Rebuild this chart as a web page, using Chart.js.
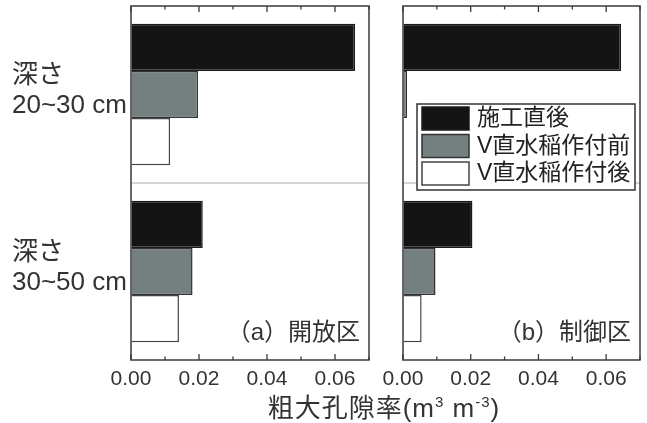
<!DOCTYPE html>
<html><head><meta charset="utf-8">
<script src="https://cdn.jsdelivr.net/npm/chart.js@4"></script>
<style>
html,body{margin:0;padding:0;background:#fff;width:647px;height:423px;overflow:hidden;position:relative}
#c1{position:absolute;left:0;top:0;}
#c2{position:absolute;left:378px;top:0;}
#xt{position:absolute;left:0;width:768px;top:394px;line-height:28px;text-align:center;font-size:26px;letter-spacing:1px;font-family:"Liberation Sans","Noto Sans CJK JP",sans-serif;color:#333;white-space:nowrap}
#xt sup{font-size:15px;vertical-align:10px;line-height:0}
</style>
</head><body>
<canvas id="c1" width="378" height="423"></canvas>
<canvas id="c2" width="269" height="423"></canvas>
<div id="xt">粗大孔隙率(m<sup>3</sup> m<sup>-3</sup>)</div>
<script>
// ---- data ----
const categories = [["深さ", "20~30 cm"], ["深さ", "30~50 cm"]];
const seriesNames = ["施工直後", "V直水稲作付前", "V直水稲作付後"];
const panelLabels = ["（a）開放区", "（b）制御区"];
// (a) 開放区
const openImmediate = [0.0659, 0.0211];
const openBefore = [0.0197, 0.0181];
const openAfter = [0.0115, 0.0141];
// (b) 制御区
const ctrlImmediate = [0.0644, 0.0205];
const ctrlBefore = [0.0012, 0.0096];
const ctrlAfter = [0.0, 0.0055];
const xMin = 0, xMax = 0.07, xStep = 0.01;

// ---- styles ----
const fills = ["#141414", "#748080", "#ffffff"];
const borders = ["#1a1a1a", "#333333", "#444444"];
const FONT = '"Liberation Sans","Noto Sans CJK JP",sans-serif';

function makeDatasets(vals) {
  return vals.map((v, i) => ({
    label: seriesNames[i], data: v,
    backgroundColor: fills[i], borderColor: borders[i], borderWidth: 1.5,
    categoryPercentage: 0.8, barPercentage: 1.0
  }));
}

const framePlugin = {
  id: 'frame',
  beforeDatasetsDraw(chart) {
    const {ctx, chartArea: a, scales: {y}} = chart;
    const sy = (y.getPixelForValue(0) + y.getPixelForValue(1)) / 2;
    ctx.save();
    ctx.strokeStyle = '#c8c8c8'; ctx.lineWidth = 1.5;
    ctx.beginPath(); ctx.moveTo(a.left, sy); ctx.lineTo(a.right, sy); ctx.stroke();
    ctx.restore();
  },
  afterDatasetsDraw(chart, args, opts) {
    const {ctx, chartArea: a, scales: {x}} = chart;
    ctx.save();
    ctx.strokeStyle = '#3a3a3a'; ctx.lineWidth = 1.5;
    ctx.strokeRect(a.left, a.top, a.right - a.left, a.bottom - a.top);
    ctx.lineWidth = 1.3;
    x.ticks.forEach(t => {
      const px = x.getPixelForValue(t.value);
      const major = Math.round(t.value * 100) % 2 === 0;
      const len = major ? 6 : 3.5;
      ctx.beginPath();
      ctx.moveTo(px, a.top); ctx.lineTo(px, a.top + len);
      ctx.moveTo(px, a.bottom); ctx.lineTo(px, a.bottom - len);
      ctx.stroke();
    });
    ctx.fillStyle = '#333';
    ctx.font = '24px ' + FONT;
    ctx.textAlign = 'right'; ctx.textBaseline = 'middle';
    ctx.fillText(opts.label, a.right - 9, a.bottom - 27);
    if (opts.legend) {
      const L = a.left + 14, T = a.top + 98, R = a.right - 5, B = a.top + 184;
      ctx.fillStyle = '#fff';
      ctx.fillRect(L, T, R - L, B - T);
      ctx.strokeStyle = '#333'; ctx.lineWidth = 1.5;
      ctx.strokeRect(L, T, R - L, B - T);
      chart.data.datasets.forEach((ds, i) => {
        const sy = T + 3 + i * 27.5;
        ctx.fillStyle = ds.backgroundColor;
        ctx.fillRect(L + 5, sy, 47, 23);
        ctx.strokeStyle = ds.borderColor; ctx.lineWidth = 1.5;
        ctx.strokeRect(L + 5, sy, 47, 23);
        ctx.fillStyle = '#222';
        ctx.font = '23px ' + FONT;
        ctx.textAlign = 'left'; ctx.textBaseline = 'middle';
        ctx.fillText(ds.label, L + 60, sy + 12);
      });
    }
    ctx.restore();
  }
};

function makeChart(id, vals, label, showY, legend, pad) {
  return new Chart(document.getElementById(id), {
    type: 'bar',
    data: { labels: categories, datasets: makeDatasets(vals) },
    plugins: [framePlugin],
    options: {
      responsive: false, animation: false, indexAxis: 'y',
      layout: { padding: pad },
      plugins: { legend: { display: false }, tooltip: { enabled: false },
        frame: { label: label, legend: legend } },
      scales: {
        x: {
          type: 'linear', min: xMin, max: xMax,
          afterFit(s) { s.height = 63; s.paddingLeft = 0; s.paddingRight = 0; },
          border: { display: false },
          grid: { drawOnChartArea: false, drawTicks: false },
          ticks: {
            stepSize: xStep, autoSkip: false, maxRotation: 0, padding: 7,
            color: '#333', font: { size: 21, family: FONT },
            callback: v => (Math.round(v * 100) % 2 === 0 && v < 0.069) ? v.toFixed(2) : ''
          }
        },
        y: {
          display: showY,
          afterFit(s) { s.width = showY ? 119 : 0; s.paddingTop = 0; s.paddingBottom = 0; },
          border: { display: false },
          grid: { display: false },
          ticks: {
            crossAlign: 'far', labelOffset: -4, color: '#333',
            font: { size: 26, family: FONT, lineHeight: 1.15 }
          }
        }
      }
    }
  });
}

makeChart('c1', [openImmediate, openBefore, openAfter], panelLabels[0], true, false,
  { left: 12, right: 9, top: 6, bottom: 0 });
makeChart('c2', [ctrlImmediate, ctrlBefore, ctrlAfter], panelLabels[1], false, true,
  { left: 25, right: 7, top: 6, bottom: 0 });
</script>
</body></html>
